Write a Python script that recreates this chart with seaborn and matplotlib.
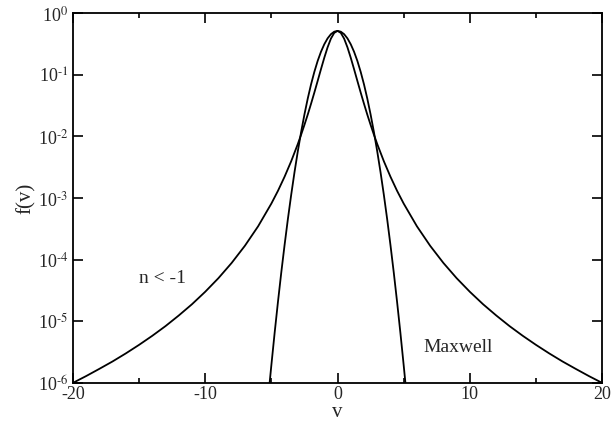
import numpy as np
import pandas as pd
import seaborn as sns
import matplotlib
matplotlib.use('Agg')
import matplotlib.pyplot as plt
from matplotlib.ticker import FixedLocator, LogLocator, NullLocator, FuncFormatter

# values (positive half, curves are symmetric)
v_maxwell = [0, 0.25, 0.5, 0.75, 1.0, 1.25, 1.5, 1.75, 2.0, 2.25, 2.5, 2.75,
             3.0, 3.25, 3.5, 3.75, 4.0, 4.25, 4.5, 4.75, 5.0, 5.13]
f_maxwell = [0.516, 0.5005, 0.456, 0.390, 0.313, 0.2365, 0.168, 0.1117, 0.070,
             0.0411, 0.0227, 0.01178, 0.00574, 0.00263, 0.00113, 4.57e-4,
             1.73e-4, 6.19e-5, 2.07e-5, 6.53e-6, 1.93e-6, 1.0e-6]

v_kappa = [0, 0.25, 0.5, 0.75, 1.0, 1.25, 1.5, 1.75, 2.0, 2.25, 2.5, 2.75,
           3.0, 3.5, 4.0, 4.5, 5, 6, 7, 8, 9, 10, 11, 12, 13, 14, 15, 16,
           17, 18, 19, 20]
f_kappa = [0.516, 0.4786, 0.386, 0.2793, 0.189, 0.1234, 0.0796, 0.0516,
           0.0339, 0.0226, 0.0154, 0.01066, 0.00753, 0.00396, 0.00222,
           0.00131, 8.13e-4, 3.48e-4, 1.68e-4, 8.85e-5, 5.01e-5, 3.01e-5,
           1.89e-5, 1.24e-5, 8.35e-6, 5.81e-6, 4.14e-6, 3.01e-6, 2.23e-6,
           1.69e-6, 1.29e-6, 1.0e-6]


def mirror(v, f):
    v = np.asarray(v, dtype=float)
    f = np.asarray(f, dtype=float)
    return pd.DataFrame({'v': np.concatenate([-v[:0:-1], v]),
                         'f': np.concatenate([f[:0:-1], f])})


def decade_label(y, pos):
    e = int(round(np.log10(y)))
    return r'$\mathdefault{10^{\text{%d}}}$' % e


maxwell = mirror(v_maxwell, f_maxwell)
kappa = mirror(v_kappa, f_kappa)

sns.set_style('ticks')
plt.rcParams['font.family'] = ['Liberation Serif', 'DejaVu Serif']
plt.rcParams['mathtext.fontset'] = 'stix'
plt.rcParams['axes.unicode_minus'] = False

fig = plt.figure(figsize=(6.12, 4.25), dpi=100)
ax = fig.add_axes([0.119, 0.099, 0.865, 0.870])

sns.lineplot(data=maxwell, x='v', y='f', ax=ax, color='black', lw=1.3,
             sort=False, legend=False)
sns.lineplot(data=kappa, x='v', y='f', ax=ax, color='black', lw=1.3,
             sort=False, legend=False)

ax.set_yscale('log')
ax.set_xlim(-20, 20)
ax.set_ylim(1e-6, 1)

ax.xaxis.set_major_locator(FixedLocator([-20, -10, 0, 10, 20]))
ax.xaxis.set_minor_locator(FixedLocator([-15, -5, 5, 15]))
ax.yaxis.set_major_locator(LogLocator(base=10, numticks=10))
ax.yaxis.set_minor_locator(NullLocator())
ax.yaxis.set_major_formatter(FuncFormatter(decade_label))

ax.tick_params(which='both', direction='in', top=True, right=True,
               labelsize=13, width=1.2, color='black')
ax.tick_params(which='major', length=7)
ax.tick_params(which='minor', length=3.5)
ax.tick_params(axis='x', pad=2)
for s in ax.spines.values():
    s.set_linewidth(1.3)
    s.set_color('black')

ax.set_xlabel('v', fontsize=15, labelpad=0)
ax.set_ylabel('f(v)', fontsize=15, labelpad=1)

ax.text(-13.2, 10**-4.30, 'n < -1', fontsize=14, ha='center', va='center')
ax.text(9.1, 10**-5.42, 'Maxwell', fontsize=14, ha='center', va='center')

fig.savefig('out.png', dpi=100)
